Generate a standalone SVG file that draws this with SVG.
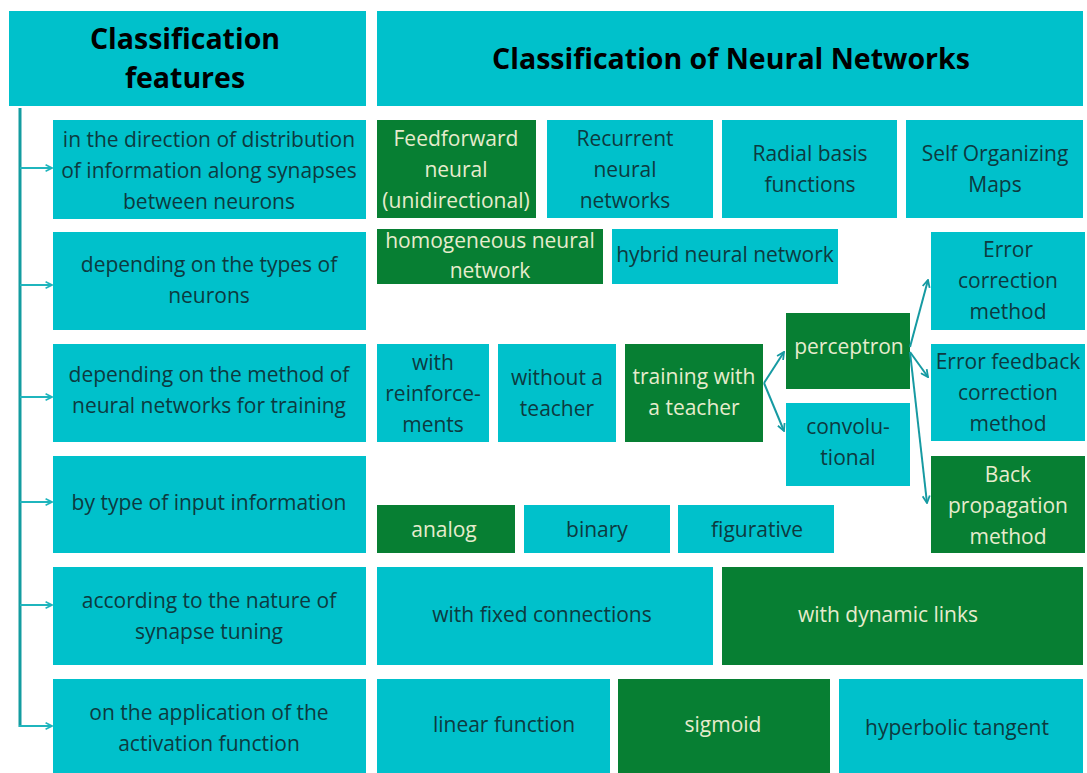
<svg xmlns="http://www.w3.org/2000/svg" width="1087" height="773" viewBox="0 0 1087 773">
<style>
.t{fill:#00c1cb}
.g{fill:#077f33}
text{font-family:"Open Sans","Liberation Sans",sans-serif;font-size:21px;text-anchor:middle}
.tt{fill:#0d3a40}
.gt{fill:#e6eccd}
.h{font-weight:bold;font-size:28.5px;fill:#000}
.ln{stroke:#139ca0;stroke-width:3;fill:none}
.ar{stroke:#1fb5bd;stroke-width:2;fill:none;marker-end:url(#a)}
.ar2{stroke:#169aa2;stroke-width:2;fill:none;marker-end:url(#b)}
</style>
<defs>
<marker id="a" viewBox="0 0 10 10" refX="9" refY="5" markerWidth="8" markerHeight="8" markerUnits="userSpaceOnUse" orient="auto"><path d="M1,1 L9,5 L1,9" fill="none" stroke="#1fb5bd" stroke-width="2"/></marker>
<marker id="b" viewBox="0 0 10 10" refX="9" refY="5" markerWidth="9" markerHeight="9" markerUnits="userSpaceOnUse" orient="auto"><path d="M1,1 L9,5 L1,9" fill="none" stroke="#169aa2" stroke-width="2"/></marker>
</defs>
<rect width="1087" height="773" fill="#fff"/>
<g id="hdr-left"><rect class="t" x="9" y="11" width="357" height="95"/><text class="h" x="185" y="49">Classification</text><text class="h" x="185" y="88">features</text></g>
<g id="hdr-right"><rect class="t" x="377" y="11" width="706" height="95"/><text class="h" x="731" y="69">Classification of Neural Networks</text></g>

<g id="f1"><rect class="t" x="53" y="120" width="313" height="99"/><text class="tt" x="209" y="147">in the direction of distribution</text><text class="tt" x="209" y="178">of information along synapses</text><text class="tt" x="209" y="209">between neurons</text></g>
<g id="f2"><rect class="t" x="53" y="232" width="313" height="98"/><text class="tt" x="209" y="272">depending on the types of</text><text class="tt" x="209" y="303">neurons</text></g>
<g id="f3"><rect class="t" x="53" y="344" width="313" height="98"/><text class="tt" x="209" y="382">depending on the method of</text><text class="tt" x="209" y="413">neural networks for training</text></g>
<g id="f4"><rect class="t" x="53" y="456" width="313" height="97"/><text class="tt" x="209" y="510">by type of input information</text></g>
<g id="f5"><rect class="t" x="53" y="567" width="313" height="98"/><text class="tt" x="209" y="608">according to the nature of</text><text class="tt" x="209" y="639">synapse tuning</text></g>
<g id="f6"><rect class="t" x="53" y="679" width="313" height="94"/><text class="tt" x="209" y="720">on the application of the</text><text class="tt" x="209" y="751">activation function</text></g>

<g id="feedforward"><rect class="g" x="377" y="120" width="159" height="98"/><text class="gt" x="456" y="146">Feedforward</text><text class="gt" x="456" y="177">neural</text><text class="gt" x="456" y="208">(unidirectional)</text></g>
<g id="recurrent"><rect class="t" x="547" y="120" width="166" height="98"/><text class="tt" x="625" y="146">Recurrent</text><text class="tt" x="625" y="177">neural</text><text class="tt" x="625" y="208">networks</text></g>
<g id="radial"><rect class="t" x="722" y="120" width="175" height="98"/><text class="tt" x="810" y="161">Radial basis</text><text class="tt" x="810" y="192">functions</text></g>
<g id="som"><rect class="t" x="906" y="120" width="177" height="98"/><text class="tt" x="995" y="161">Self Organizing</text><text class="tt" x="995" y="192">Maps</text></g>

<g id="homogeneous"><rect class="g" x="377" y="229" width="226" height="55"/><text class="gt" x="490" y="248">homogeneous neural</text><text class="gt" x="490" y="278">network</text></g>
<g id="hybrid"><rect class="t" x="612" y="229" width="226" height="55"/><text class="tt" x="725" y="262">hybrid neural network</text></g>
<g id="errcorr"><rect class="t" x="931" y="232" width="154" height="98"/><text class="tt" x="1008" y="257">Error</text><text class="tt" x="1008" y="288">correction</text><text class="tt" x="1008" y="319">method</text></g>

<g id="reinf"><rect class="t" x="377" y="344" width="112" height="98"/><text class="tt" x="433" y="370">with</text><text class="tt" x="433" y="401">reinforce-</text><text class="tt" x="433" y="432">ments</text></g>
<g id="noteacher"><rect class="t" x="498" y="344" width="118" height="98"/><text class="tt" x="557" y="385">without a</text><text class="tt" x="557" y="416">teacher</text></g>
<g id="teacher"><rect class="g" x="625" y="344" width="138" height="98"/><text class="gt" x="694" y="384">training with</text><text class="gt" x="694" y="415">a teacher</text></g>
<g id="perceptron"><rect class="g" x="786" y="313" width="124" height="76"/><text class="gt" x="849" y="354">perceptron</text></g>
<g id="convolutional"><rect class="t" x="786" y="403" width="124" height="83"/><text class="tt" x="848" y="434">convolu-</text><text class="tt" x="848" y="465">tional</text></g>
<g id="errfeed"><rect class="t" x="931" y="344" width="154" height="97"/><text class="tt" x="1008" y="369">Error feedback</text><text class="tt" x="1008" y="400">correction</text><text class="tt" x="1008" y="431">method</text></g>
<g id="backprop"><rect class="g" x="931" y="456" width="154" height="97"/><text class="gt" x="1008" y="482">Back</text><text class="gt" x="1008" y="513">propagation</text><text class="gt" x="1008" y="544">method</text></g>

<g id="analog"><rect class="g" x="377" y="505" width="138" height="48"/><text class="gt" x="444" y="537">analog</text></g>
<g id="binary"><rect class="t" x="524" y="505" width="146" height="48"/><text class="tt" x="597" y="537">binary</text></g>
<g id="figurative"><rect class="t" x="678" y="505" width="156" height="48"/><text class="tt" x="757" y="537">figurative</text></g>

<g id="fixed"><rect class="t" x="377" y="567" width="336" height="98"/><text class="tt" x="542" y="622">with fixed connections</text></g>
<g id="dynamic"><rect class="g" x="722" y="567" width="361" height="98"/><text class="gt" x="888" y="622">with dynamic links</text></g>

<g id="linear"><rect class="t" x="377" y="679" width="233" height="94"/><text class="tt" x="504" y="732">linear function</text></g>
<g id="sigmoid"><rect class="g" x="618" y="679" width="212" height="94"/><text class="gt" x="723" y="732">sigmoid</text></g>
<g id="hyperbolic"><rect class="t" x="839" y="679" width="244" height="94"/><text class="tt" x="957" y="735">hyperbolic tangent</text></g>

<g id="connectors">
<line class="ln" x1="20" y1="108" x2="20" y2="727"/>
<path class="ar" d="M20,168 H52"/>
<path class="ar" d="M20,285 H52"/>
<path class="ar" d="M20,397 H52"/>
<path class="ar" d="M20,502 H52"/>
<path class="ar" d="M20,605 H52"/>
<path class="ar" d="M19,726 H52"/>
<path class="ar2" d="M764,383 L784,352"/>
<path class="ar2" d="M764,383 L784,431"/>
<path class="ar2" d="M910,347 L928,280"/>
<path class="ar2" d="M910,352 L928,377"/>
<path class="ar2" d="M910,352 L927,503"/>
</g>
</svg>
